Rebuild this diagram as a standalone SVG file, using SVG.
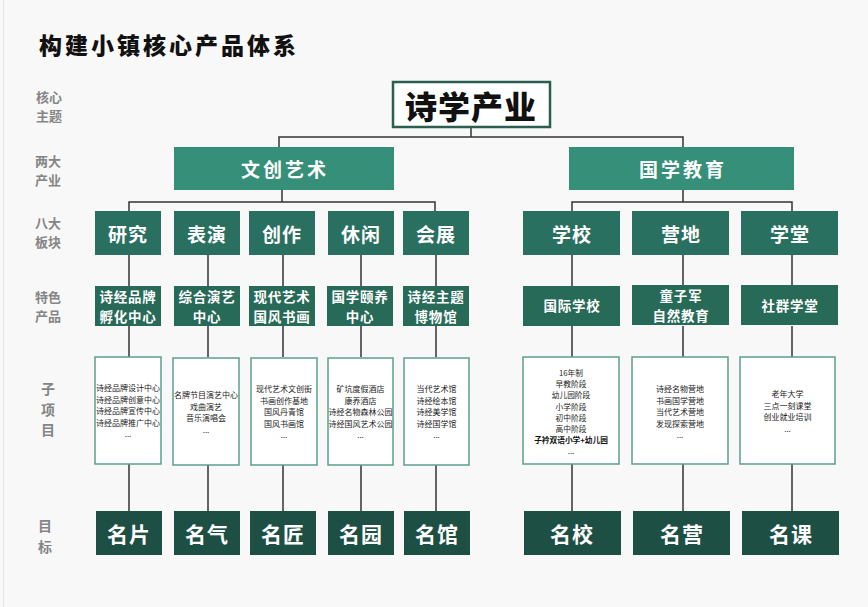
<svg xmlns="http://www.w3.org/2000/svg" width="868" height="607" viewBox="0 0 868 607">
<style>
text{font-family:"Noto Sans CJK SC","Noto Sans",sans-serif;text-anchor:middle;dominant-baseline:central}
.title{font-size:23px;font-weight:900;fill:#111;text-anchor:start;letter-spacing:3px}
.lbl{font-size:13px;font-weight:700;fill:#858585}
.lbl2{font-size:14px}
.core{fill:#fff;stroke:#2c5e4f;stroke-width:2.5}
.coret{font-size:32px;font-weight:900;fill:#111;letter-spacing:1px}
.ind{fill:#368f78}
.indt{font-size:19px;font-weight:700;fill:#fff;letter-spacing:3px}
.brd{fill:#2a7060}
.brdt{font-size:19px;font-weight:700;fill:#fff;letter-spacing:1px}
.prd{fill:#286a58}
.prdt{font-size:13.5px;font-weight:700;fill:#fff;letter-spacing:0.8px}
.sub{fill:#fff;stroke:#5c9e8f;stroke-width:1.5}
.subt{font-size:8px;fill:#222}
.subs{font-size:7.7px}
.subb{font-weight:700;fill:#111}
.goal{fill:#1e4f44}
.goalt{font-size:21px;font-weight:700;fill:#fff;letter-spacing:1px}
.ln{stroke:#333;stroke-width:1.5;fill:none}
</style>
<rect width="868" height="607" fill="#f8f8f8"/>
<line x1="3.5" y1="0" x2="3.5" y2="607" stroke="#e6e6e6" stroke-width="1"/>
<text class="title" x="39" y="44">构建小镇核心产品体系</text>

<g id="labels">
<text class="lbl" x="49" y="96">核心<tspan x="49" dy="19">主题</tspan></text>
<text class="lbl" x="48" y="160">两大<tspan x="48" dy="19">产业</tspan></text>
<text class="lbl" x="48" y="222">八大<tspan x="48" dy="19">板块</tspan></text>
<text class="lbl" x="48" y="296">特色<tspan x="48" dy="19">产品</tspan></text>
<text class="lbl lbl2" x="48" y="388">子<tspan x="48" dy="20.5">项</tspan><tspan x="48" dy="20.5">目</tspan></text>
<text class="lbl lbl2" x="45" y="525">目<tspan x="45" dy="20.5">标</tspan></text>
</g>

<g id="connectors">
<path class="ln" d="M471 127V137M279 147V137H683V147"/>
<path class="ln" d="M282 190V202M129 211V202H435V211"/>
<path class="ln" d="M683 190V202M572 211V202H792V211"/>
<path class="ln" d="M129 255V286M208 255V286M283 255V286M361 255V286M436 255V286M572 255V286M683 255V286M792 255V286"/>
<path class="ln" d="M129 326V357M208 326V357M283 326V357M361 326V357M436 326V357M572 326V357M683 326V357M792 326V357"/>
<path class="ln" d="M129 464V511M208 465V511M283 465V511M361 465V511M436 465V511M572 464V511M683 464V511M792 464V511"/>
</g>

<g id="core"><rect class="core" x="393" y="82" width="157" height="45"/><text class="coret" x="471" y="105">诗学产业</text></g>

<g id="ind-wenchuang"><rect class="ind" x="174" y="147" width="220" height="43"/><text class="indt" x="285" y="168">文创艺术</text></g>
<g id="ind-guoxue"><rect class="ind" x="569" y="147" width="225" height="43"/><text class="indt" x="683" y="168">国学教育</text></g>

<g id="b-yanjiu"><rect class="brd" x="95" y="211" width="66" height="44"/><text class="brdt" x="128" y="233">研究</text></g>
<g id="b-biaoyan"><rect class="brd" x="174" y="211" width="66" height="44"/><text class="brdt" x="207" y="233">表演</text></g>
<g id="b-chuangzuo"><rect class="brd" x="249" y="211" width="66" height="44"/><text class="brdt" x="282" y="233">创作</text></g>
<g id="b-xiuxian"><rect class="brd" x="328" y="211" width="66" height="44"/><text class="brdt" x="361" y="233">休闲</text></g>
<g id="b-huizhan"><rect class="brd" x="403" y="211" width="66" height="44"/><text class="brdt" x="436" y="233">会展</text></g>
<g id="b-xuexiao"><rect class="brd" x="523" y="211" width="97" height="44"/><text class="brdt" x="572" y="233">学校</text></g>
<g id="b-yingdi"><rect class="brd" x="632" y="211" width="97" height="44"/><text class="brdt" x="681" y="233">营地</text></g>
<g id="b-xuetang"><rect class="brd" x="741" y="211" width="97" height="44"/><text class="brdt" x="790" y="233">学堂</text></g>

<g id="p-yanjiu"><rect class="prd" x="95" y="286" width="66" height="40"/><text class="prdt" x="128" y="296.2">诗经品牌<tspan x="128" dy="19.6">孵化中心</tspan></text></g>
<g id="p-biaoyan"><rect class="prd" x="174" y="286" width="66" height="40"/><text class="prdt" x="207" y="296.2">综合演艺<tspan x="207" dy="19.6">中心</tspan></text></g>
<g id="p-chuangzuo"><rect class="prd" x="249" y="286" width="66" height="40"/><text class="prdt" x="282" y="296.2">现代艺术<tspan x="282" dy="19.6">国风书画</tspan></text></g>
<g id="p-xiuxian"><rect class="prd" x="327" y="286" width="66" height="40"/><text class="prdt" x="360" y="296.2">国学颐养<tspan x="360" dy="19.6">中心</tspan></text></g>
<g id="p-huizhan"><rect class="prd" x="403" y="286" width="66" height="40"/><text class="prdt" x="436" y="296.2">诗经主题<tspan x="436" dy="19.6">博物馆</tspan></text></g>
<g id="p-xuexiao"><rect class="prd" x="523" y="286" width="97" height="40"/><text class="prdt" x="572" y="305">国际学校</text></g>
<g id="p-yingdi"><rect class="prd" x="632" y="285" width="97" height="40"/><text class="prdt" x="681" y="295.2">童子军<tspan x="681" dy="19.6">自然教育</tspan></text></g>
<g id="p-xuetang"><rect class="prd" x="741" y="285" width="97" height="40"/><text class="prdt" x="790" y="305">社群学堂</text></g>

<g id="s-yanjiu"><rect class="sub" x="95" y="357" width="66" height="107"/>
<text class="subt" x="128" y="387">诗经品牌设计中心<tspan x="128" dy="11.6">诗经品牌创意中心</tspan><tspan x="128" dy="11.6">诗经品牌宣传中心</tspan><tspan x="128" dy="11.6">诗经品牌推广中心</tspan><tspan x="128" dy="11.6">...</tspan></text></g>
<g id="s-biaoyan"><rect class="sub" x="173" y="358" width="66" height="107"/>
<text class="subt" x="206" y="394">名牌节目演艺中心<tspan x="206" dy="11.6">戏曲演艺</tspan><tspan x="206" dy="11.6">音乐演唱会</tspan><tspan x="206" dy="11.6">...</tspan></text></g>
<g id="s-chuangzuo"><rect class="sub" x="251" y="358" width="66" height="107"/>
<text class="subt" x="284" y="388">现代艺术文创街<tspan x="284" dy="11.6">书画创作基地</tspan><tspan x="284" dy="11.6">国风丹青馆</tspan><tspan x="284" dy="11.6">国风书画馆</tspan><tspan x="284" dy="11.6">...</tspan></text></g>
<g id="s-xiuxian"><rect class="sub" x="328" y="358" width="65" height="107"/>
<text class="subt" x="360.5" y="388">矿坑度假酒店<tspan x="360.5" dy="11.6">康养酒店</tspan><tspan x="360.5" dy="11.6">诗经名物森林公园</tspan><tspan x="360.5" dy="11.6">诗经国风艺术公园</tspan><tspan x="360.5" dy="11.6">...</tspan></text></g>
<g id="s-huizhan"><rect class="sub" x="404" y="358" width="65" height="107"/>
<text class="subt" x="436.5" y="388">当代艺术馆<tspan x="436.5" dy="11.6">诗经绘本馆</tspan><tspan x="436.5" dy="11.6">诗经美学馆</tspan><tspan x="436.5" dy="11.6">诗经国学馆</tspan><tspan x="436.5" dy="11.6">...</tspan></text></g>
<g id="s-xuexiao"><rect class="sub" x="523" y="357" width="96" height="107"/>
<text class="subt subs" x="571" y="372">16年制<tspan x="571" dy="11.2">早教阶段</tspan><tspan x="571" dy="11.2">幼儿园阶段</tspan><tspan x="571" dy="11.2">小学阶段</tspan><tspan x="571" dy="11.2">初中阶段</tspan><tspan x="571" dy="11.2">高中阶段</tspan><tspan class="subb" x="571" dy="11.2">子衿双语小学+幼儿园</tspan><tspan x="571" dy="11.2">...</tspan></text></g>
<g id="s-yingdi"><rect class="sub" x="632" y="357" width="96" height="107"/>
<text class="subt" x="680" y="388">诗经名物营地<tspan x="680" dy="11.6">书画国学营地</tspan><tspan x="680" dy="11.6">当代艺术营地</tspan><tspan x="680" dy="11.6">发现探索营地</tspan><tspan x="680" dy="11.6">...</tspan></text></g>
<g id="s-xuetang"><rect class="sub" x="740" y="357" width="95" height="107"/>
<text class="subt" x="787.5" y="393">老年大学<tspan x="787.5" dy="11.6">三点一刻课堂</tspan><tspan x="787.5" dy="11.6">创业就业培训</tspan><tspan x="787.5" dy="11.6">...</tspan></text></g>

<g id="g-mingpian"><rect class="goal" x="96" y="511" width="66" height="44"/><text class="goalt" x="129" y="533">名片</text></g>
<g id="g-mingqi"><rect class="goal" x="174" y="511" width="66" height="44"/><text class="goalt" x="207" y="533">名气</text></g>
<g id="g-mingjiang"><rect class="goal" x="250" y="511" width="66" height="44"/><text class="goalt" x="283" y="533">名匠</text></g>
<g id="g-mingyuan"><rect class="goal" x="328" y="511" width="66" height="44"/><text class="goalt" x="361" y="533">名园</text></g>
<g id="g-mingguan"><rect class="goal" x="404" y="511" width="66" height="44"/><text class="goalt" x="437" y="533">名馆</text></g>
<g id="g-mingxiao"><rect class="goal" x="524" y="511" width="97" height="44"/><text class="goalt" x="572" y="533">名校</text></g>
<g id="g-mingying"><rect class="goal" x="633" y="511" width="97" height="44"/><text class="goalt" x="682" y="533">名营</text></g>
<g id="g-mingke"><rect class="goal" x="742" y="511" width="97" height="44"/><text class="goalt" x="791" y="533">名课</text></g>
</svg>
